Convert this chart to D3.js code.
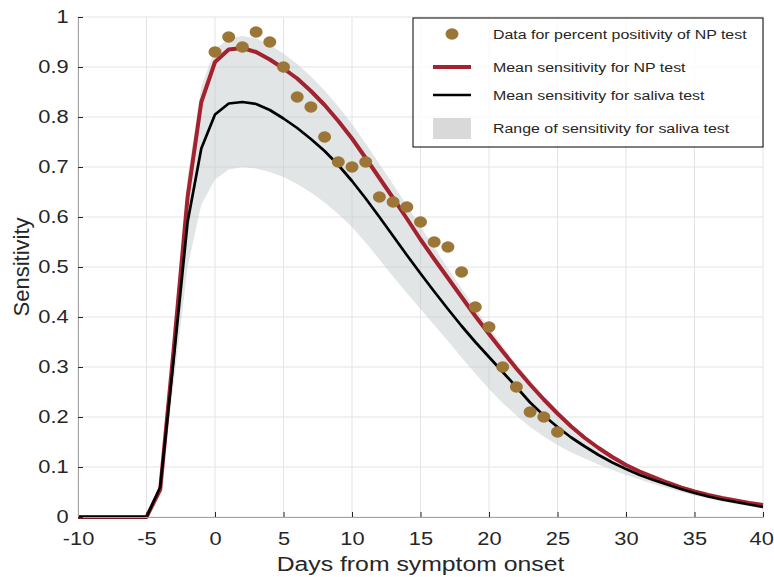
<!DOCTYPE html>
<html>
<head>
<meta charset="utf-8">
<script src="https://cdn.jsdelivr.net/npm/d3@7"></script>
<style>
  body { margin: 0; background: #fff; }
  svg text { font-family: "Liberation Sans", Arial, Helvetica, sans-serif; fill: #262626; }
</style>
</head>
<body>
<div id="chart"></div>
<script>
// days from symptom onset, one model value per day
const days = d3.range(-10, 41);

const npMean = [0, 0, 0, 0, 0, 0, 0.055, 0.34, 0.64, 0.83,
  0.91, 0.935, 0.938, 0.93, 0.915, 0.897, 0.877, 0.852, 0.824, 0.792,
  0.757, 0.718, 0.678, 0.638, 0.597, 0.555, 0.516, 0.478, 0.44, 0.402,
  0.366, 0.331, 0.297, 0.265, 0.235, 0.207, 0.181, 0.158, 0.138, 0.12,
  0.104, 0.091, 0.08, 0.069, 0.059, 0.051, 0.044, 0.038, 0.033, 0.028, 0.024];

const salivaMean = [0, 0, 0, 0, 0, 0, 0.06, 0.32, 0.59, 0.737,
  0.805, 0.827, 0.83, 0.826, 0.814, 0.797, 0.778, 0.756, 0.732, 0.704,
  0.672, 0.637, 0.6, 0.562, 0.524, 0.487, 0.451, 0.416, 0.382, 0.35,
  0.32, 0.29, 0.26, 0.229, 0.203, 0.18, 0.159, 0.141, 0.124, 0.109,
  0.096, 0.084, 0.074, 0.065, 0.056, 0.048, 0.041, 0.035, 0.03, 0.025, 0.02];

const salivaUpper = [0, 0, 0, 0, 0, 0, 0.06, 0.36, 0.68, 0.86,
  0.935, 0.957, 0.962, 0.957, 0.944, 0.927, 0.906, 0.881, 0.853, 0.821,
  0.786, 0.747, 0.706, 0.665, 0.623, 0.581, 0.539, 0.497, 0.457, 0.417,
  0.379, 0.342, 0.306, 0.273, 0.242, 0.213, 0.186, 0.162, 0.141, 0.123,
  0.107, 0.093, 0.081, 0.07, 0.06, 0.052, 0.045, 0.039, 0.033, 0.028, 0.024];

const salivaLower = [0, 0, 0, 0, 0, 0, 0.05, 0.27, 0.5, 0.625,
  0.675, 0.695, 0.7, 0.697, 0.69, 0.68, 0.666, 0.649, 0.629, 0.606,
  0.58, 0.549, 0.515, 0.481, 0.448, 0.416, 0.384, 0.352, 0.319, 0.287,
  0.256, 0.228, 0.203, 0.18, 0.161, 0.144, 0.129, 0.117, 0.105, 0.094,
  0.084, 0.075, 0.066, 0.058, 0.05, 0.043, 0.037, 0.031, 0.026, 0.022, 0.017];

// percent positivity of NP test
const dataDays = d3.range(0, 26);
const dataPositivity = [0.93, 0.96, 0.94, 0.97, 0.95, 0.90, 0.84, 0.82, 0.76, 0.71,
  0.70, 0.71, 0.64, 0.63, 0.62, 0.59, 0.55, 0.54, 0.49, 0.42,
  0.38, 0.30, 0.26, 0.21, 0.20, 0.17];

const xTicks = d3.range(-10, 41, 5);
const yTicks = d3.range(0, 1.01, 0.1);

const legendLabels = [
  "Data for percent positivity of NP test",
  "Mean sensitivity for NP test",
  "Mean sensitivity for saliva test",
  "Range of sensitivity for saliva test"
];

const width = 774, height = 577;
const margin = { top: 17, right: 11, bottom: 60, left: 78 };
const stretch = "scale(1.18,1)";

const svg = d3.select("#chart").append("svg")
  .attr("width", width)
  .attr("height", height);

const x = d3.scaleLinear().domain([-10, 40]).range([margin.left, width - margin.right]);
const y = d3.scaleLinear().domain([0, 1]).range([height - margin.bottom, margin.top]);

// grid
svg.append("g")
  .selectAll("line.vx")
  .data(xTicks)
  .enter().append("line")
  .attr("x1", d => x(d)).attr("x2", d => x(d))
  .attr("y1", y(0)).attr("y2", y(1))
  .attr("stroke", "#e3e3e3").attr("stroke-width", 1);

svg.append("g")
  .selectAll("line.hy")
  .data(yTicks)
  .enter().append("line")
  .attr("x1", x(-10)).attr("x2", x(40))
  .attr("y1", d => y(d)).attr("y2", d => y(d))
  .attr("stroke", "#e3e3e3").attr("stroke-width", 1);

// range band
const area = d3.area()
  .x((d, i) => x(days[i]))
  .y0((d, i) => y(salivaLower[i]))
  .y1((d, i) => y(salivaUpper[i]));

svg.append("path")
  .datum(days)
  .attr("d", area)
  .attr("fill", "#c6cbcb")
  .attr("fill-opacity", 0.5);

const line = vals => d3.line()
  .x((d, i) => x(days[i]))
  .y((d, i) => y(vals[i]))(days);

svg.append("path")
  .attr("d", line(npMean))
  .attr("fill", "none")
  .attr("stroke", "#a2232f")
  .attr("stroke-width", 4)
  .attr("stroke-linejoin", "round");

svg.append("path")
  .attr("d", line(salivaMean))
  .attr("fill", "none")
  .attr("stroke", "#000")
  .attr("stroke-width", 2.7)
  .attr("stroke-linejoin", "round");

svg.append("g")
  .selectAll("ellipse")
  .data(dataDays)
  .enter().append("ellipse")
  .attr("cx", d => x(d))
  .attr("cy", (d, i) => y(dataPositivity[i]))
  .attr("rx", 6.5)
  .attr("ry", 5.7)
  .attr("fill", "#9b7637");

// axes
const xAxis = svg.append("g")
  .attr("transform", `translate(0,${y(0)})`)
  .call(d3.axisBottom(x).tickValues(xTicks).tickSize(-5).tickPadding(15)
    .tickFormat(d => String(d)));
xAxis.select(".domain").attr("stroke", "#a3a3a3");
xAxis.selectAll(".tick line").attr("stroke", "#262626");
xAxis.selectAll("text")
  .attr("font-size", 18.5)
  .attr("fill", "#262626")
  .attr("dx", d => d === 40 ? -1.5 : 0)
  .attr("transform", stretch);

const yAxis = svg.append("g")
  .attr("transform", `translate(${x(-10)},0)`)
  .call(d3.axisLeft(y).tickValues(yTicks).tickSize(-5).tickPadding(8)
    .tickFormat(d => String(+d.toFixed(1))));
yAxis.select(".domain").attr("stroke", "#a3a3a3");
yAxis.selectAll(".tick line").attr("stroke", "#262626");
yAxis.selectAll("text")
  .attr("font-size", 18.5)
  .attr("fill", "#262626")
  .attr("transform", stretch);

svg.append("text")
  .attr("transform", `translate(${(x(-10) + x(40)) / 2},571) ${stretch}`)
  .attr("text-anchor", "middle")
  .attr("font-size", 21)
  .text("Days from symptom onset");

svg.append("text")
  .attr("transform", `translate(29,${(y(0) + y(1)) / 2}) rotate(-90)`)
  .attr("text-anchor", "middle")
  .attr("font-size", 22)
  .text("Sensitivity");

// legend
const lg = svg.append("g").attr("transform", "translate(413,18)");
lg.append("rect")
  .attr("width", 350).attr("height", 129)
  .attr("fill", "#fff").attr("fill-opacity", 0.8)
  .attr("stroke", "#000").attr("stroke-width", 1);

const rowY = [16, 49, 77, 110];
lg.append("ellipse").attr("cx", 39).attr("cy", rowY[0]).attr("rx", 6.5).attr("ry", 5.7).attr("fill", "#9b7637");
lg.append("line").attr("x1", 20).attr("x2", 58).attr("y1", rowY[1]).attr("y2", rowY[1])
  .attr("stroke", "#a2232f").attr("stroke-width", 4);
lg.append("line").attr("x1", 20).attr("x2", 58).attr("y1", rowY[2]).attr("y2", rowY[2])
  .attr("stroke", "#000").attr("stroke-width", 2.7);
lg.append("rect").attr("x", 20).attr("y", rowY[3] - 10).attr("width", 38).attr("height", 21)
  .attr("fill", "#d9d9d9");

lg.selectAll("text.lab")
  .data(legendLabels)
  .enter().append("text")
  .attr("transform", (d, i) => `translate(80,${rowY[i] + 5}) ${stretch}`)
  .attr("font-size", 13.5)
  .text(d => d);
</script>
</body>
</html>
